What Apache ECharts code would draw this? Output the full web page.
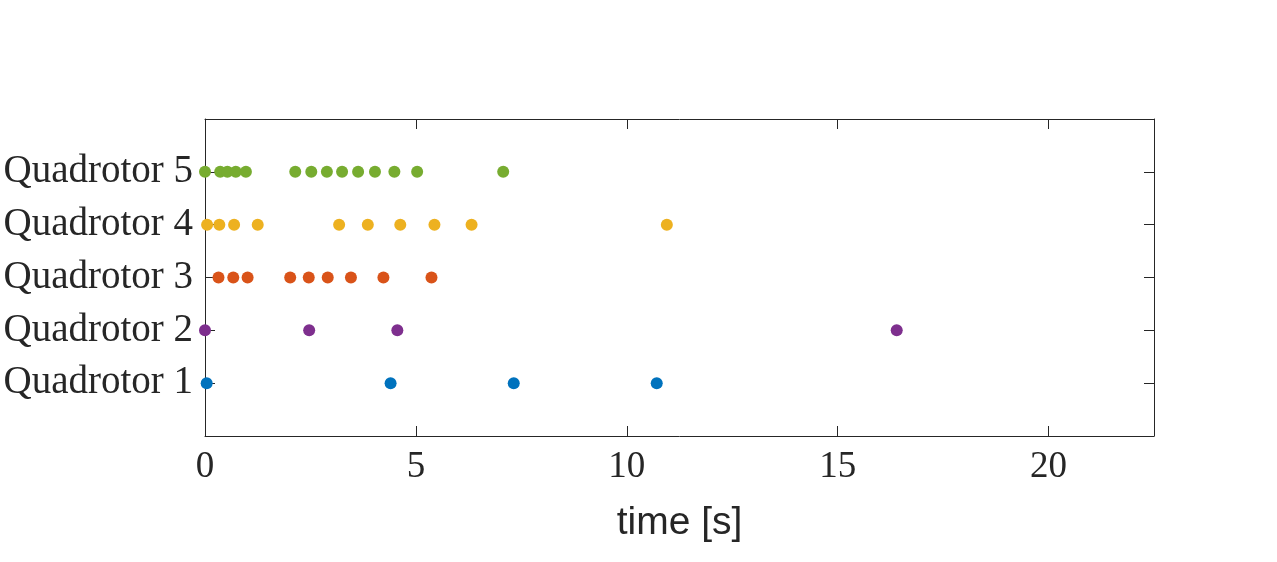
<!DOCTYPE html>
<html>
<head>
<meta charset="utf-8">
<script src="https://cdn.jsdelivr.net/npm/echarts@6/dist/echarts.min.js"></script>
<style>
  html, body { margin: 0; padding: 0; background: #fff; }
  #mychart { width: 1277px; height: 562px; }
</style>
</head>
<body>
<div id="mychart"></div>
<script>
// event times [s] per quadrotor
const quad1 = [0.04, 4.40, 7.32, 10.71];
const quad2 = [0.0, 2.47, 4.56, 16.40];
const quad3 = [0.32, 0.67, 1.01, 2.02, 2.46, 2.91, 3.46, 4.23, 5.37];
const quad4 = [0.05, 0.34, 0.69, 1.25, 3.18, 3.86, 4.63, 5.44, 6.32, 10.95];
const quad5 = [0.0, 0.36, 0.53, 0.73, 0.97, 2.14, 2.52, 2.89, 3.25, 3.63, 4.03, 4.49, 5.03, 7.07];
const quadNames = ['Quadrotor 1', 'Quadrotor 2', 'Quadrotor 3', 'Quadrotor 4', 'Quadrotor 5'];
const xTicks = [0, 5, 10, 15, 20];

const colors = ['#0072BD', '#7E2F8E', '#D95319', '#EDB120', '#77AC30'];
const txt = '#262626';
const serif = '"Liberation Serif", "DejaVu Serif", serif';

let myChart = echarts.init(document.getElementById('mychart'));

let allQuads = [quad1, quad2, quad3, quad4, quad5];
let series = allQuads.map((times, i) => ({
  name: quadNames[i],
  type: 'scatter',
  symbolSize: 12,
  itemStyle: { color: colors[i], opacity: 1 },
  data: times.map(t => [t, i + 1]),
  xAxisIndex: 0,
  yAxisIndex: 0
}));

let axisLine = { show: true, onZero: false, lineStyle: { color: txt, width: 1 } };
let tick = { show: true, inside: true, length: 10, lineStyle: { color: txt, width: 1 } };

let option = {
  backgroundColor: '#ffffff',
  animation: false,
  grid: { left: 205, right: 123, top: 119, bottom: 126, containLabel: false },
  xAxis: [
    {
      type: 'value',
      position: 'bottom',
      min: 0,
      max: 22.5,
      interval: 5,
      name: 'time [s]',
      nameLocation: 'middle',
      nameGap: 68,
      nameTextStyle: { fontFamily: '"Liberation Sans", Arial, sans-serif', fontSize: 39, color: txt },
      axisLine: axisLine,
      axisTick: tick,
      splitLine: { show: false },
      axisLabel: {
        margin: 13,
        fontFamily: serif,
        fontSize: 37,
        color: txt,
        formatter: v => (xTicks.indexOf(v) >= 0 ? String(v) : '')
      }
    },
    {
      type: 'value',
      position: 'top',
      min: 0,
      max: 22.5,
      interval: 5,
      axisLine: axisLine,
      axisTick: tick,
      splitLine: { show: false },
      axisLabel: { show: false }
    }
  ],
  yAxis: [
    {
      type: 'value',
      position: 'left',
      min: 0,
      max: 6,
      interval: 1,
      axisLine: axisLine,
      axisTick: tick,
      splitLine: { show: false },
      axisLabel: {
        margin: 12,
        fontFamily: serif,
        fontSize: 39,
        color: txt,
        formatter: v => (v >= 1 && v <= 5 ? quadNames[v - 1] : '')
      }
    },
    {
      type: 'value',
      position: 'right',
      min: 0,
      max: 6,
      interval: 1,
      axisLine: axisLine,
      axisTick: tick,
      splitLine: { show: false },
      axisLabel: { show: false }
    }
  ],
  series: series
};

myChart.setOption(option, true);
</script>
</body>
</html>
